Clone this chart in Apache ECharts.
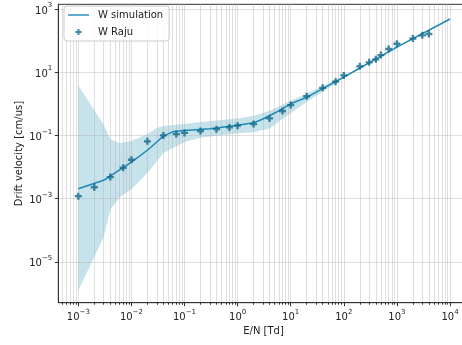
<!DOCTYPE html>
<html>
<head>
<meta charset="utf-8">
<script src="https://cdn.jsdelivr.net/npm/echarts@6/dist/echarts.min.js"></script>
<style>
  html, body { margin: 0; padding: 0; background: #fff; }
  #chart { width: 462px; height: 345px; }
</style>
</head>
<body>
<div id="chart"></div>
<script>
// simulation (E/N in Td, drift velocity in cm/us)
const simX = [1e-3, 3e-3, 1e-2, 2e-2, 3e-2, 4e-2, 6e-2, 0.1, 0.3, 1, 2, 3, 5, 7, 10, 20, 100, 1000, 1e4];
const simY = [2.06e-3, 3.8e-3, 0.0143, 0.034, 0.062, 0.095, 0.13, 0.143, 0.163, 0.21, 0.25, 0.33, 0.51, 0.7, 1.0, 1.6, 7.0, 62, 480];

// simulation spread band
const bandX = [1e-3, 3e-3, 4e-3, 6e-3, 1e-2, 2e-2, 3e-2, 4e-2, 0.1, 0.2, 1, 2, 4, 7, 20, 100, 1000, 1e4];
const bandUpper = [3.8, 0.22, 0.075, 0.056, 0.066, 0.11, 0.17, 0.2, 0.23, 0.265, 0.34, 0.42, 0.6, 0.95, 2.1, 7.6, 64, 490];
const bandLower = [1.25e-6, 6e-5, 4.5e-4, 1.1e-3, 2e-3, 6.5e-3, 0.015, 0.028, 0.062, 0.085, 0.118, 0.127, 0.165, 0.33, 1.13, 6.4, 60, 470];

// Raju reference data
const rajuX = [1e-3, 2e-3, 4e-3, 7e-3, 1e-2, 2e-2, 4e-2, 7e-2, 0.1, 0.2, 0.4, 0.7, 1, 2, 4, 7, 10, 20, 40, 70, 100, 200, 300, 400, 500, 700, 1000, 2000, 3000, 4000];
const rajuY = [1.2e-3, 2.3e-3, 4.8e-3, 9.5e-3, 0.017, 0.065, 0.1, 0.11, 0.12, 0.137, 0.158, 0.179, 0.203, 0.228, 0.345, 0.59, 0.91, 1.73, 3.2, 5.0, 7.9, 15.3, 20.4, 25.4, 34.7, 54, 79, 115, 146, 161];

// axis ticks
const xTicks = [1e-3, 1e-2, 1e-1, 1, 10, 100, 1000, 1e4];
const yTicks = [1e-5, 1e-3, 1e-1, 10, 1000];
const xMinorTicks = [];
for (let e = -4; e <= 4; e++) {
  for (let k = 2; k <= 9; k++) xMinorTicks.push(k * Math.pow(10, e));
}

const FONT = "DejaVu Sans";
const LINE_COLOR = "#1c88b4";
const MARK_COLOR = "#11698b";
const GRID_COLOR = "rgba(176,176,176,0.4)";
const xMin = Math.pow(10, -3.377), xMax = Math.pow(10, 4.352);
const yMin = Math.pow(10, -6.29), yMax = Math.pow(10, 3.146);

function sup(v) {
  const e = Math.round(Math.log10(v));
  return "{b|10}{s|" + (e < 0 ? "\u2212" + (-e) : e) + "}";
}
const rich = {
  b: { fontSize: 10, fontFamily: FONT, color: "#222", lineHeight: 14, verticalAlign: "bottom" },
  s: { fontSize: 7, fontFamily: FONT, color: "#222", lineHeight: 14, verticalAlign: "top" },
};

const plusPath = "path://M-1,-3L1,-3L1,-1L3,-1L3,1L1,1L1,3L-1,3L-1,1L-3,1L-3,-1L-1,-1Z";
const lineIcon = "path://M0,0L0,0M0,2.3L21,2.3L21,3.7L0,3.7ZM21,6L21,6";

const chart = echarts.init(document.getElementById("chart"), null, { renderer: "canvas" });
chart.setOption({
  animation: false,
  grid: {
    left: 58.3, top: 4.3, right: -6.7, bottom: 42.3,
    outerBoundsMode: "none",
    containLabel: false,
    show: true, borderColor: "#333", borderWidth: 1, backgroundColor: "transparent",
  },
  legend: {
    orient: "vertical",
    left: 64,
    top: 6,
    z: 10,
    data: [
      { name: "W simulation", icon: lineIcon },
      { name: "W Raju" },
    ],
    itemWidth: 21,
    itemHeight: 6,
    itemGap: 7,
    padding: [4, 6, 4, 4],
    backgroundColor: "rgba(255,255,255,0.8)",
    borderColor: "#cccccc",
    borderWidth: 1,
    borderRadius: 3,
    textStyle: { fontSize: 10, fontFamily: FONT, color: "#222", padding: [0, 0, 0, 4] },
  },
  xAxis: [
    {
      type: "log",
      min: xMin,
      max: xMax,
      z: 3,
      name: "E/N [Td]",
      nameLocation: "middle",
      nameGap: 24,
      nameMoveOverlap: false,
      nameTextStyle: { fontSize: 10, fontFamily: FONT, color: "#222" },
      axisLine: { show: true, onZero: false, lineStyle: { color: "#333", width: 1 } },
      axisTick: { show: true, length: 3.5, customValues: xTicks, lineStyle: { color: "#333" } },
      axisLabel: { customValues: xTicks, margin: 6, formatter: sup, rich: rich },
      splitLine: { show: true, lineStyle: { color: GRID_COLOR, width: 1 } },
    },
    {
      type: "log",
      min: xMin,
      max: xMax,
      z: 3,
      position: "bottom",
      axisLine: { show: false },
      axisTick: { show: true, length: 2, customValues: xMinorTicks, lineStyle: { color: "#333" } },
      axisLabel: { show: false },
      splitLine: { show: true, lineStyle: { color: GRID_COLOR, width: 1 } },
    },
  ],
  yAxis: {
    type: "log",
    min: yMin,
    max: yMax,
    z: 3,
    name: "Drift velocity [cm/us]",
    nameLocation: "middle",
    nameGap: 34,
    nameMoveOverlap: false,
    nameTextStyle: { fontSize: 10, fontFamily: FONT, color: "#222" },
    axisLine: { show: true, onZero: false, lineStyle: { color: "#333", width: 1 } },
    axisTick: { show: true, length: 3.5, customValues: yTicks, lineStyle: { color: "#333" } },
    axisLabel: { customValues: yTicks, margin: 6, formatter: sup, rich: rich },
    splitLine: { show: true, lineStyle: { color: GRID_COLOR, width: 1 } },
  },
  series: [
    {
      name: "band",
      type: "custom",
      z: 1,
      silent: true,
      clip: true,
      data: bandX.map((x, i) => [x, bandUpper[i], bandLower[i]]),
      encode: { x: 0, y: 1 },
      renderItem: function (params, api) {
        if (params.dataIndex !== 0) return null;
        const pts = [];
        for (let i = 0; i < bandX.length; i++) pts.push(api.coord([bandX[i], bandUpper[i]]));
        for (let i = bandX.length - 1; i >= 0; i--) pts.push(api.coord([bandX[i], bandLower[i]]));
        return { type: "polygon", shape: { points: pts }, style: { fill: "#c6e2eb" } };
      },
    },
    {
      name: "W simulation",
      type: "line",
      z: 5,
      symbol: "none",
      color: LINE_COLOR,
      lineStyle: { color: LINE_COLOR, width: 1.5 },
      data: simX.map((x, i) => [x, simY[i]]),
    },
    {
      name: "W Raju",
      type: "scatter",
      z: 6,
      symbol: plusPath,
      symbolSize: 7,
      symbolKeepAspect: true,
      color: MARK_COLOR,
      itemStyle: { color: MARK_COLOR },
      data: rajuX.map((x, i) => [x, rajuY[i]]),
    },
  ],
});
</script>
</body>
</html>
